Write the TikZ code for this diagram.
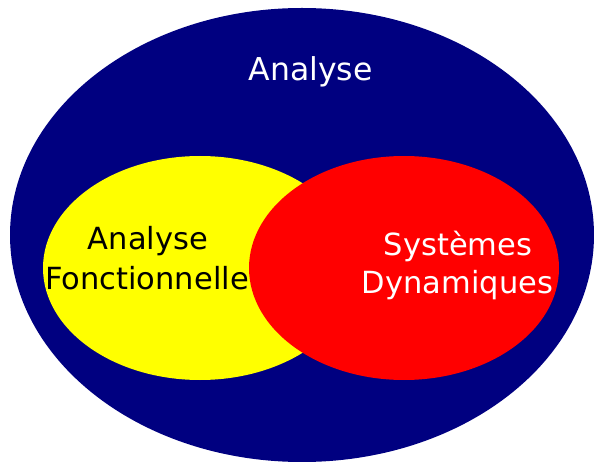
\documentclass[tikz,border=0pt]{standalone}
\usepackage{fontspec}
\setmainfont{DejaVu Sans}
\usetikzlibrary{shapes.geometric}
\definecolor{navyc}{HTML}{000080}
\definecolor{yellowc}{HTML}{FFFF00}
\definecolor{redc}{HTML}{FF0000}
\tikzset{
  blob/.style={ellipse, inner sep=0pt, draw=none},
  lbl/.style={anchor=base, inner sep=0pt, font=\fontsize{30.5}{38}\selectfont},
  biglbl/.style={anchor=base, inner sep=0pt, font=\fontsize{31.5}{38}\selectfont}
}
\begin{document}
\begin{tikzpicture}[x=1pt, y=-1pt]
\useasboundingbox (0,0) rectangle (594,462);
\node[blob, fill=navyc, minimum width=584pt, minimum height=454pt] (outer) at (302,235) {};
\node[blob, fill=yellowc, minimum width=314pt, minimum height=224pt] (af) at (200,268) {};
\node[blob, fill=redc, minimum width=310pt, minimum height=224pt] (sd) at (404,268) {};
\node[biglbl, text=white] (t1) at (310.5,81) {Analyse};
\node[lbl, text=black] (t2) at (148,250) {Analyse};
\node[lbl, text=black] (t3) at (147,290) {Fonctionnelle};
\node[lbl, text=white] (t4) at (458,255) {Systèmes};
\node[lbl, text=white] (t5) at (457.5,293) {Dynamiques};
\end{tikzpicture}
\end{document}
